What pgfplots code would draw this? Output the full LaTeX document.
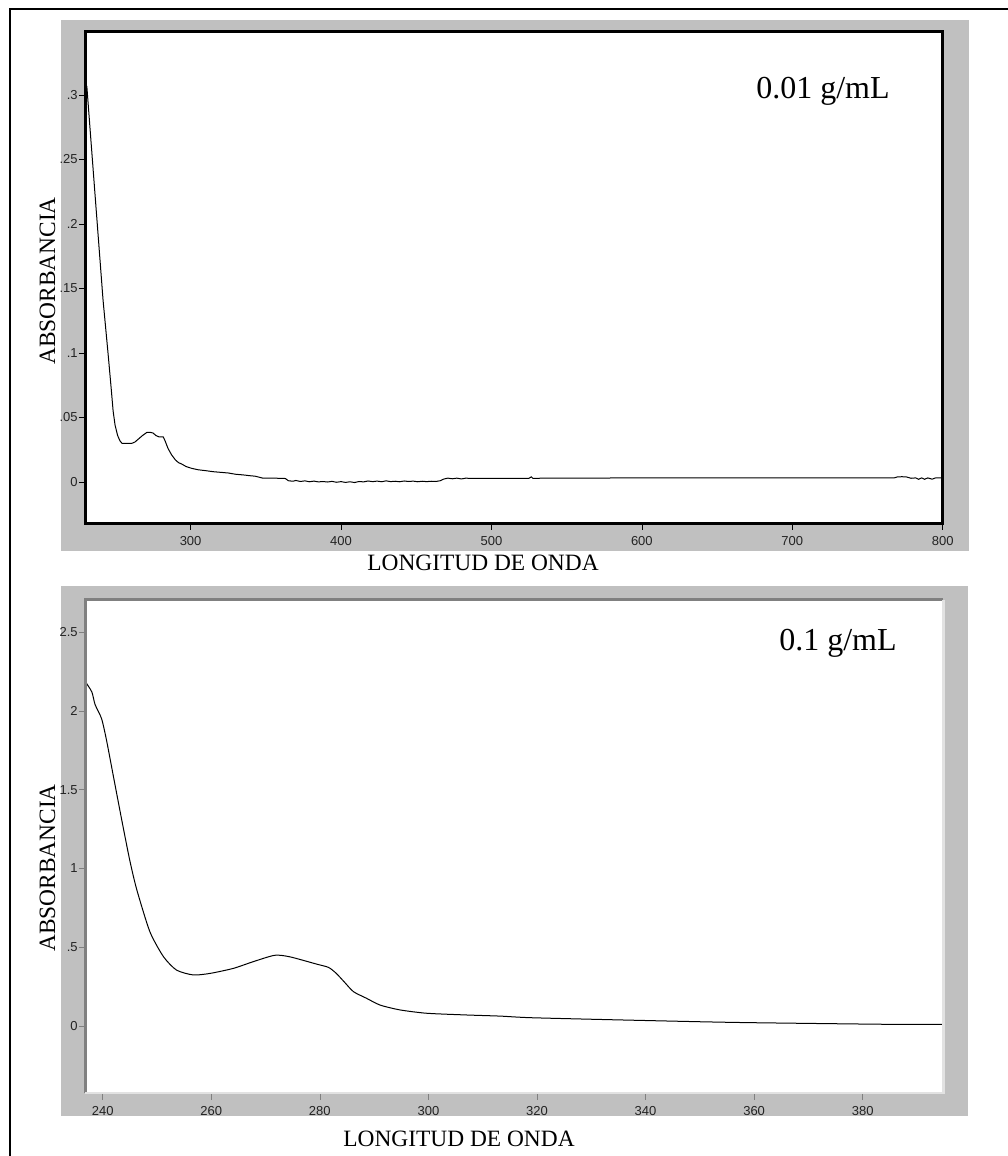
\documentclass[border=0pt]{standalone}
\usepackage{fontspec}
\setmainfont{Liberation Serif}
\newfontfamily\arial{Liberation Sans}
\usepackage{pgfplots}
\pgfplotsset{compat=1.18}
\definecolor{panelgray}{RGB}{192,192,192}
\definecolor{darkborder}{RGB}{128,128,128}
\definecolor{lightborder}{RGB}{226,226,226}
\definecolor{ticklab}{RGB}{35,35,35}

\pgfplotstableread{
x y
231 0.307
236 0.230
241.8 0.141
245.1 0.100
247.1 0.074
248.5 0.055
249.8 0.044
251.5 0.036
253 0.032
254.4 0.030
258 0.030
261 0.030
263 0.031
265 0.033
268 0.036
271 0.0385
273 0.0385
275 0.038
277 0.036
279 0.035
281.8 0.035
283 0.032
285 0.026
287.4 0.021
290 0.017
292 0.0150
294 0.0140
297 0.0120
300.7 0.0106
305 0.0095
310 0.0088
315 0.0080
320 0.0075
325 0.0070
330 0.0060
335 0.0055
339.4 0.0049
343 0.0045
348 0.0030
360 0.0029
363 0.0027
365 0.0010
368 0.0006
370 0.0012
373 0.0004
376 0.0009
379 0.0002
382 0.0007
385 0.0001
388 0.0004
391 0.0000
394 0.0005
397 -0.0002
400 0.0003
403 -0.0003
406 0.0002
409 -0.0004
412 0.0004
415 0.0001
418 0.0008
421 0.0003
424 0.0007
427 0.0002
430 0.0009
433 0.0003
436 0.0006
439 0.0002
442 0.0008
445 0.0004
448 0.0007
451 0.0002
454 0.0006
457 0.0003
460 0.0006
463 0.0004
466 0.0010
468 0.0022
471 0.0030
474 0.0025
477 0.0030
480 0.0024
483 0.0030
486 0.0028
490 0.0029
525 0.0029
526.5 0.0040
527.5 0.0029
600 0.0032
700 0.0033
768 0.0033
770 0.0040
773 0.0041
776 0.0039
779 0.0029
782 0.0032
784 0.0021
786 0.0032
788 0.0021
790 0.0032
793 0.0022
795 0.0031
798 0.0033
800 0.0033
}\dataA

\pgfplotstableread{
x y
236.8 2.185
238.0 2.12
238.6 2.04
239.8 1.95
240.7 1.815
242.0 1.58
243.5 1.31
245.0 1.05
246.3 0.863
248.7 0.598
251.2 0.440
253.6 0.355
256.7 0.324
259.8 0.334
264.1 0.366
267.7 0.408
271.7 0.449
274.5 0.439
279.4 0.393
281.6 0.372
283.0 0.335
284.5 0.280
286.2 0.218
288.6 0.176
291.1 0.133
294.8 0.102
299.7 0.081
307.1 0.070
313.2 0.063
318.7 0.053
332.5 0.041
350.3 0.027
360.1 0.021
384.4 0.011
394.85 0.011
}\dataB

\begin{document}
\begin{tikzpicture}
\path[use as bounding box] (0pt,0pt) rectangle (1007pt,-1156pt);
\fill[white] (0pt,0pt) rectangle (1007pt,-1156pt);
\draw[line width=2pt] (9.5pt,-1170pt) -- (9.5pt,-9.5pt) -- (1020pt,-9.5pt);
\fill[panelgray] (61pt,-20pt) rectangle (969pt,-551pt);
\fill[panelgray] (61pt,-586pt) rectangle (968pt,-1115.7pt);

% ---------- top panel ----------
\begin{axis}[
  at={(85.3pt,-523.3pt)}, anchor=south west,
  scale only axis, width=857.4pt, height=491.6pt,
  xmin=230, xmax=800, ymin=-0.032, ymax=0.349,
  axis background/.style={fill=white},
  axis line style={line width=3.5pt, black},
  tick align=outside, tick pos=left,
  major tick length=6.5pt,
  major tick style={line width=0.7pt, black},
  xtick={300,400,500,600,700,800},
  ytick={0,0.05,0.1,0.15,0.2,0.25,0.3},
  yticklabels={0,.05,.1,.15,.2,.25,.3},
  ticklabel style={font=\fontsize{13pt}{15pt}\selectfont\arial, text=ticklab},
  /pgf/number format/assume math mode=true,
  yticklabel style={inner sep=1pt},
  xticklabel style={yshift=-3pt},
]
\addplot[black, line width=1pt] table[x=x,y=y] {\dataA};
\end{axis}

% ---------- bottom panel ----------
\begin{axis}[
  at={(85.3pt,-1093pt)}, anchor=south west,
  scale only axis, width=858pt, height=493.3pt,
  xmin=236.8, xmax=394.85, ymin=-0.425, ymax=2.705,
  axis background/.style={fill=white},
  axis line style={draw=none},
  tick align=outside, tick pos=left,
  major tick length=6.5pt,
  major tick style={line width=0.6pt, darkborder},
  xtick={240,260,280,300,320,340,360,380},
  ytick={0,0.5,1,1.5,2,2.5},
  yticklabels={0,.5,1,1.5,2,2.5},
  ticklabel style={font=\fontsize{13pt}{15pt}\selectfont\arial, text=ticklab},
  /pgf/number format/assume math mode=true,
  yticklabel style={inner sep=1pt},
  xticklabel style={yshift=-3pt},
]
\addplot[black, line width=1pt, smooth, tension=0.4] table[x=x,y=y] {\dataB};
\end{axis}
\draw[darkborder, line width=3pt] (85.3pt,-1093pt) -- (85.3pt,-599.7pt) -- (943.3pt,-599.7pt);
\draw[lightborder, line width=2.5pt] (943.3pt,-599.7pt) -- (943.3pt,-1093pt) -- (85.3pt,-1093pt);

% ---------- texts ----------
\node[anchor=base, font=\fontsize{32pt}{38pt}\selectfont] at (823pt,-98.3pt) {0.01 g/mL};
\node[anchor=base, font=\fontsize{32pt}{38pt}\selectfont] at (838pt,-650pt) {0.1 g/mL};
\node[anchor=base, font=\fontsize{23.4pt}{28pt}\selectfont] at (483pt,-570.7pt) {LONGITUD DE ONDA};
\node[anchor=base, font=\fontsize{23.4pt}{28pt}\selectfont] at (459pt,-1146pt) {LONGITUD DE ONDA};
\node[anchor=base, rotate=90, font=\fontsize{23.4pt}{28pt}\selectfont] at (55pt,-281pt) {ABSORBANCIA};
\node[anchor=base, rotate=90, font=\fontsize{23.4pt}{28pt}\selectfont] at (55pt,-868pt) {ABSORBANCIA};
\end{tikzpicture}
\end{document}
